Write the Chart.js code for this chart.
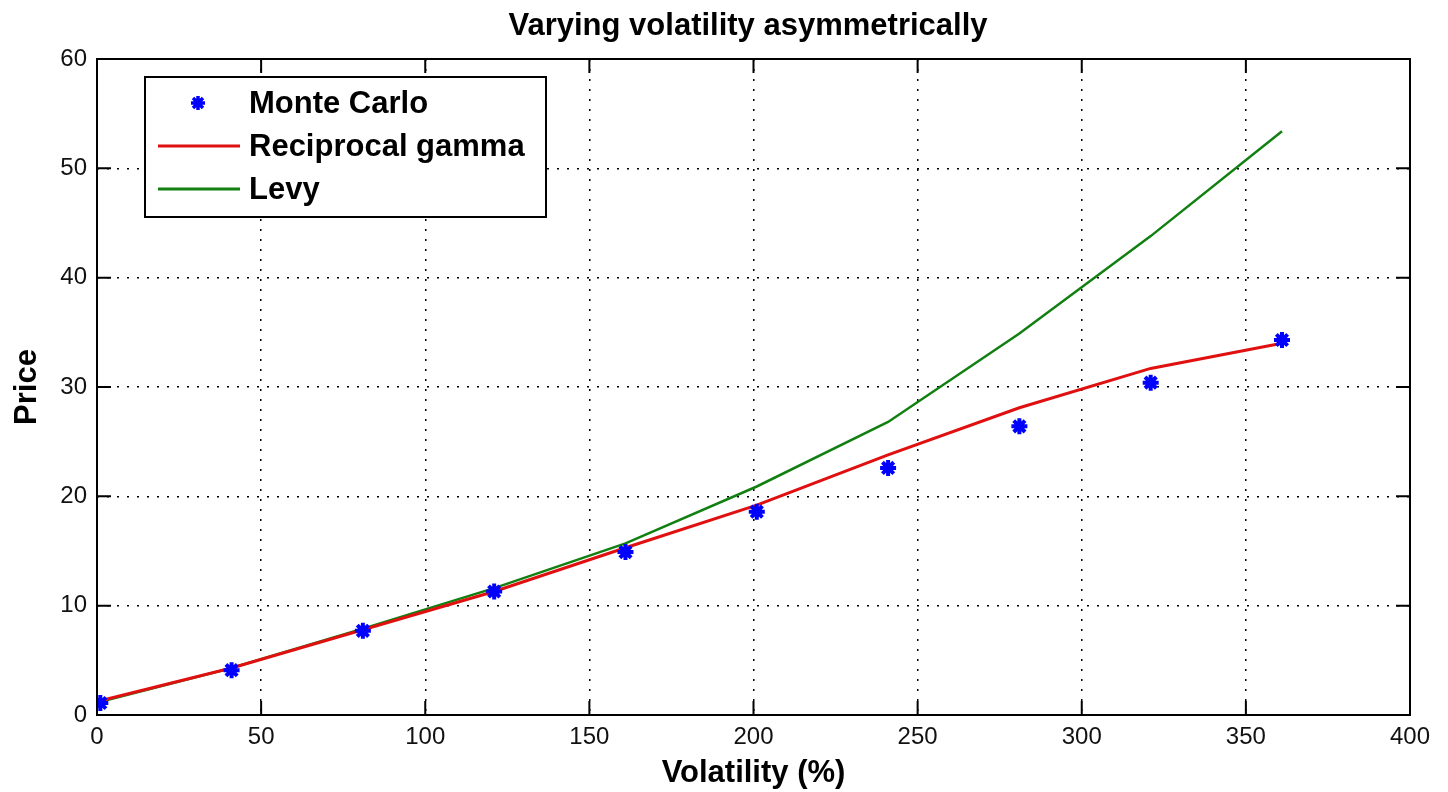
<!DOCTYPE html>
<html>
<head>
<meta charset="utf-8">
<script src="https://cdn.jsdelivr.net/npm/chart.js@4.4.0/dist/chart.umd.min.js"></script>
<style>
  html, body { margin: 0; padding: 0; background: #fff; }
  #wrap { width: 1448px; height: 792px; }
</style>
</head>
<body>
<div id="wrap"><canvas id="myChart" width="1448" height="792"></canvas></div>
<script>
const volatility = [1, 41, 81, 121, 161, 201, 241, 281, 321, 361];
const monteCarlo = [1.1, 4.1, 7.7, 11.3, 14.9, 18.6, 22.6, 26.4, 30.4, 34.3];
const reciprocalGamma = [1.3, 4.3, 7.8, 11.3, 15.3, 19.2, 23.8, 28.1, 31.7, 34.0];
const levy = [1.2, 4.3, 7.9, 11.6, 15.7, 20.9, 26.8, 34.9, 43.8, 53.4];
const xTicks = [0, 50, 100, 150, 200, 250, 300, 350, 400];
const yTicks = [0, 10, 20, 30, 40, 50, 60];

const toPoints = vals => vals.map((v, i) => ({ x: volatility[i], y: v }));
const FONT = "'Liberation Sans', Arial, sans-serif";

const frame = {
  id: 'frame',
  afterDatasetsDraw(chart) {
    const { ctx, chartArea: a, scales } = chart;
    ctx.save();
    ctx.strokeStyle = '#000';
    ctx.lineWidth = 2;
    ctx.strokeRect(a.left, a.top, a.right - a.left, a.bottom - a.top);
    ctx.beginPath();
    const t = 14;
    xTicks.forEach(v => {
      const px = scales.x.getPixelForValue(v);
      ctx.moveTo(px, a.bottom); ctx.lineTo(px, a.bottom - t);
      ctx.moveTo(px, a.top); ctx.lineTo(px, a.top + t);
    });
    yTicks.forEach(v => {
      const py = scales.y.getPixelForValue(v);
      ctx.moveTo(a.left, py); ctx.lineTo(a.left + t, py);
      ctx.moveTo(a.right, py); ctx.lineTo(a.right - t, py);
    });
    ctx.stroke();

    // title
    ctx.fillStyle = '#000';
    ctx.font = 'bold 31px ' + FONT;
    ctx.textAlign = 'center';
    ctx.textBaseline = 'alphabetic';
    ctx.fillText('Varying volatility asymmetrically', 748, 35);

    // legend box
    const lx = 145, ly = 77, lw = 401, lh = 140;
    ctx.fillStyle = '#fff';
    ctx.fillRect(lx, ly, lw, lh);
    ctx.lineWidth = 2;
    ctx.strokeRect(lx, ly, lw, lh);
    const rows = [
      { label: 'Monte Carlo', y: 103 },
      { label: 'Reciprocal gamma', y: 146 },
      { label: 'Levy', y: 189 }
    ];
    ctx.font = 'bold 31px ' + FONT;
    ctx.textAlign = 'left';
    ctx.fillStyle = '#000';
    rows.forEach(r => ctx.fillText(r.label, 249, r.y + 10));
    // marker
    ctx.strokeStyle = '#0000ff';
    ctx.lineWidth = 3.5;
    ctx.beginPath();
    const mx = 198, my = 103, s = 7;
    ctx.moveTo(mx - s, my); ctx.lineTo(mx + s, my);
    ctx.moveTo(mx, my - s); ctx.lineTo(mx, my + s);
    ctx.moveTo(mx - 5, my - 5); ctx.lineTo(mx + 5, my + 5);
    ctx.moveTo(mx - 5, my + 5); ctx.lineTo(mx + 5, my - 5);
    ctx.stroke();
    ctx.lineWidth = 3;
    ctx.strokeStyle = '#e01010';
    ctx.beginPath(); ctx.moveTo(158, 146); ctx.lineTo(240, 146); ctx.stroke();
    ctx.strokeStyle = '#118011';
    ctx.beginPath(); ctx.moveTo(158, 189); ctx.lineTo(240, 189); ctx.stroke();
    ctx.restore();
  }
};

const myChart = new Chart(document.getElementById('myChart'), {
  type: 'line',
  data: {
    datasets: [
      {
        label: 'Levy',
        data: toPoints(levy),
        borderColor: '#118011',
        borderWidth: 2.5,
        pointRadius: 0,
        tension: 0,
        order: 3
      },
      {
        label: 'Reciprocal gamma',
        data: toPoints(reciprocalGamma),
        borderColor: '#e01010',
        borderWidth: 3,
        pointRadius: 0,
        tension: 0,
        order: 2
      },
      {
        label: 'Monte Carlo',
        data: toPoints(monteCarlo),
        showLine: false,
        pointStyle: 'star',
        pointRadius: 8,
        pointBorderWidth: 4,
        pointBorderColor: '#0000ff',
        pointBackgroundColor: '#0000ff',
        order: 1
      }
    ]
  },
  options: {
    responsive: false,
    animation: false,
    layout: { padding: { top: 59, right: 38, left: 0, bottom: 0 } },
    plugins: { legend: { display: false }, title: { display: false }, tooltip: { enabled: false } },
    scales: {
      x: {
        type: 'linear',
        min: 0, max: 400,
        afterFit: s => { s.height = 77; },
        afterBuildTicks: s => { s.ticks = xTicks.map(v => ({ value: v })); },
        ticks: { color: '#111', font: { family: FONT, size: 24 }, padding: 8 },
        grid: { color: '#000', lineWidth: 1.5, drawTicks: false },
        border: { display: false, dash: [2, 8] },
        title: { display: true, text: 'Volatility (%)', color: '#000', font: { family: FONT, size: 31, weight: 'bold' }, padding: { top: 0, bottom: 0 } }
      },
      y: {
        type: 'linear',
        min: 0, max: 60,
        afterFit: s => { s.width = 97; },
        afterBuildTicks: s => { s.ticks = yTicks.map(v => ({ value: v })); },
        ticks: { color: '#111', font: { family: FONT, size: 24 }, padding: 10 },
        grid: { color: '#000', lineWidth: 1.5, drawTicks: false },
        border: { display: false, dash: [2, 8] },
        title: { display: true, text: 'Price', color: '#000', font: { family: FONT, size: 31, weight: 'bold' }, padding: { top: 9, bottom: 0 } }
      }
    }
  },
  plugins: [frame]
});
</script>
</body>
</html>
